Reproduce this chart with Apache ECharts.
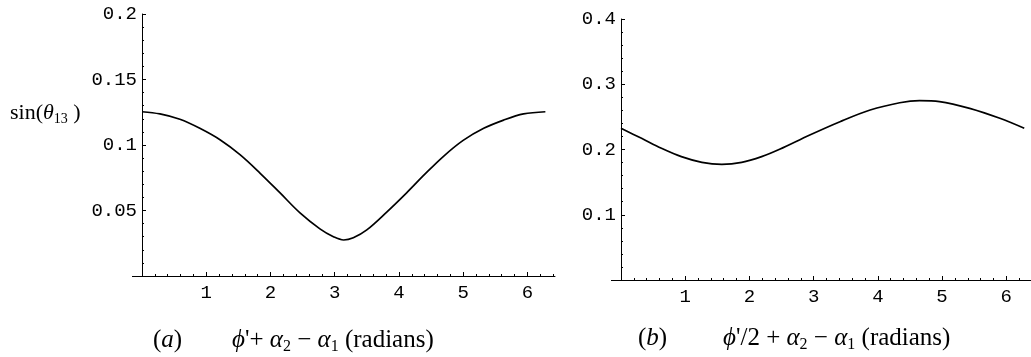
<!DOCTYPE html>
<html>
<head>
<meta charset="utf-8">
<script src="https://cdn.jsdelivr.net/npm/echarts@6/dist/echarts.min.js"></script>
<style>
html,body{margin:0;padding:0;background:#fff}
#main{width:1031px;height:357px}
</style>
</head>
<body>
<div id="main"></div>
<script>
// (a) sin(theta13) vs phi' + a2 - a1
var xA = [0, 0.28, 0.59, 0.90, 1.22, 1.53, 1.84, 2.15, 2.46, 2.77, 2.98, 3.14, 3.29, 3.50, 3.81, 4.12, 4.40, 4.69, 5.00, 5.32, 5.63, 5.94, 6.28];
var yA = [0.1254, 0.1237, 0.1196, 0.1127, 0.1038, 0.0924, 0.0784, 0.0634, 0.0482, 0.0360, 0.0300, 0.0275, 0.0292, 0.0352, 0.0488, 0.0635, 0.0775, 0.0912, 0.1035, 0.1127, 0.1190, 0.1237, 0.1254];
// (b) vs phi'/2 + a2 - a1
var xB = [0, 0.32, 0.63, 0.94, 1.26, 1.57, 1.88, 2.19, 2.47, 2.94, 3.41, 3.88, 4.34, 4.65, 4.96, 5.43, 5.90, 6.28];
var yB = [0.2325, 0.2171, 0.2018, 0.1890, 0.1803, 0.1773, 0.1803, 0.1890, 0.2003, 0.2222, 0.2426, 0.2605, 0.2717, 0.2750, 0.2735, 0.2631, 0.2478, 0.2325];

var xTickLabels = [1, 2, 3, 4, 5, 6];
var xTickMarks = [0, 1, 2, 3, 4, 5, 6];

function pairs(xs, ys){
  var out = [];
  for (var i = 0; i < xs.length; i++) { out.push([xs[i], ys[i]]); }
  return out;
}

var monoFont = 'Liberation Mono';
var monoSize = 19;
var serif = 'Liberation Serif, DejaVu Serif, serif';
var rich = {
  r: {fontFamily:serif, fontSize:25, fontWeight:'normal', color:'#000', lineHeight:30},
  i: {fontFamily:serif, fontSize:25, fontWeight:'normal', color:'#000', fontStyle:'italic', lineHeight:30},
  s: {fontFamily:serif, fontSize:16, fontWeight:'normal', color:'#000', lineHeight:17, verticalAlign:'bottom'}
};
var richSin = {
  r: {fontFamily:serif, fontSize:22, fontWeight:'normal', color:'#000', lineHeight:26},
  i: {fontFamily:serif, fontSize:22, fontWeight:'normal', color:'#000', fontStyle:'italic', lineHeight:26},
  s: {fontFamily:serif, fontSize:14, fontWeight:'normal', color:'#000', lineHeight:15, verticalAlign:'bottom'}
};

function xAxisOf(gi, max){
  return {
    type:'value', gridIndex:gi, min:0, max:max, interval:1,
    axisLine:{onZero:false, lineStyle:{color:'#000', width:1}},
    axisTick:{inside:true, length:4, customValues:xTickMarks, lineStyle:{color:'#000'}},
    minorTick:{show:true, splitNumber:5, length:2, lineStyle:{color:'#000'}},
    axisLabel:{customValues:xTickLabels, margin:7, fontFamily:monoFont, fontSize:monoSize, color:'#000'},
    splitLine:{show:false}
  };
}
function yAxisOf(gi, max, step){
  return {
    type:'value', gridIndex:gi, min:0, max:max, interval:step,
    axisLine:{show:true, onZero:false, lineStyle:{color:'#000', width:1}},
    axisTick:{show:true, inside:true, length:4, lineStyle:{color:'#000'}},
    minorTick:{show:true, splitNumber:5, length:2, lineStyle:{color:'#000'}},
    axisLabel:{margin:5, fontFamily:monoFont, fontSize:monoSize, color:'#000',
      formatter:function(v){ return v === 0 ? '' : String(v); }},
    splitLine:{show:false}
  };
}

var myChart = echarts.init(document.getElementById('main'));
var option = {
  animation:false,
  backgroundColor:'#fff',
  grid:[
    {left:142, top:14, width:413, height:262},
    {left:621, top:19, width:410, height:261}
  ],
  xAxis:[xAxisOf(0, 6.43), xAxisOf(1, 6.385)],
  yAxis:[yAxisOf(0, 0.2, 0.05), yAxisOf(1, 0.4, 0.1)],
  title:[
    {left:10, top:100, padding:0, text:'{r|sin(}{i|θ}{s|13}{r| )}', textStyle:{rich:richSin}},
    {left:153, top:325, padding:0, text:'{r|(}{i|a}{r|)}', textStyle:{rich:rich}},
    {left:232, top:325, padding:0, text:"{i|ϕ}{r|'+ }{i|α}{s|2}{r| − }{i|α}{s|1}{r| (radians)}", textStyle:{rich:rich}},
    {left:638, top:323, padding:0, text:'{r|(}{i|b}{r|)}', textStyle:{rich:rich}},
    {left:723, top:323, padding:0, text:"{i|ϕ}{r|'/2 + }{i|α}{s|2}{r| − }{i|α}{s|1}{r| (radians)}", textStyle:{rich:rich}}
  ],
  series:[
    {type:'line', xAxisIndex:0, yAxisIndex:0, data:pairs(xA, yA), smooth:0.35, showSymbol:false,
      lineStyle:{color:'#000', width:1.7}},
    {type:'line', xAxisIndex:1, yAxisIndex:1, data:pairs(xB, yB), smooth:0.35, showSymbol:false,
      lineStyle:{color:'#000', width:1.7}}
  ]
};
myChart.setOption(option, true);

// x axis line runs a little to the left of the y axis, as in the original
var stubs = [];
for (var g = 0; g < 2; g++) {
  var p = myChart.convertToPixel({gridIndex:g}, [0, 0]);
  var yy = Math.round(p[1]) + 0.5;
  stubs.push({type:'line', shape:{x1:p[0] - 10, y1:yy, x2:p[0], y2:yy}, style:{stroke:'#000', lineWidth:1}});
}
myChart.setOption({graphic:stubs});
</script>
</body>
</html>
